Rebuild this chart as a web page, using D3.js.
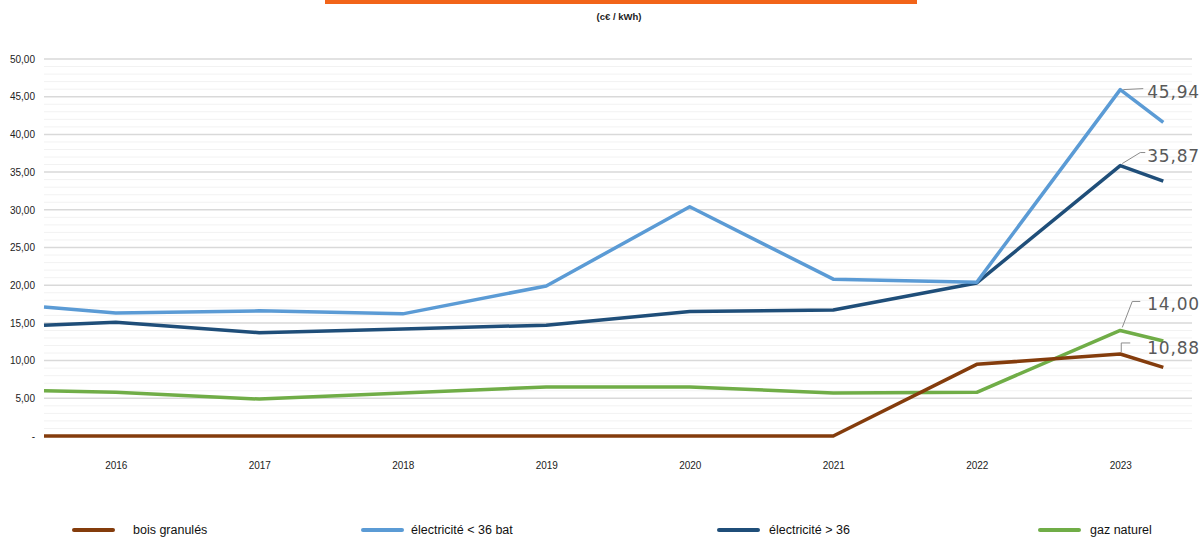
<!DOCTYPE html>
<html>
<head>
<meta charset="utf-8">
<script src="https://cdn.jsdelivr.net/npm/d3@7"></script>
<style>
  body { margin: 0; background: #fff; }
  svg { display: block; font-family: "Liberation Sans", Arial, sans-serif; }
</style>
</head>
<body>
<div id="chart"></div>
<script>
// x positions of the readings (the lines start half a year before 2016 and stop just after 2023)
var points = [2015.5, 2016, 2017, 2018, 2019, 2020, 2021, 2022, 2023, 2023.3];
var yearLabels = [2016, 2017, 2018, 2019, 2020, 2021, 2022, 2023];
var yTicks = [0, 5, 10, 15, 20, 25, 30, 35, 40, 45, 50];

var boisGranules = [0, 0, 0, 0, 0, 0, 0, 9.5, 10.88, 9.1];
var elecMoins36 = [17.1, 16.3, 16.6, 16.2, 19.9, 30.4, 20.8, 20.4, 45.94, 41.6];
var elecPlus36 = [14.7, 15.1, 13.7, 14.2, 14.7, 16.5, 16.7, 20.3, 35.87, 33.8];
var gazNaturel = [6.0, 5.8, 4.9, 5.7, 6.5, 6.5, 5.7, 5.8, 14.00, 12.6];

var seriesNames = ["bois granulés", "électricité < 36 bat", "électricité > 36", "gaz naturel"];
var seriesColors = ["#843c0c", "#5b9bd5", "#1f4e79", "#70ad47"];

var width = 1204, height = 537;
var svg = d3.select("#chart").append("svg")
    .attr("width", width)
    .attr("height", height);

// orange bar and unit
svg.append("rect")
    .attr("x", 325).attr("y", 0)
    .attr("width", 592).attr("height", 4)
    .attr("fill", "#f26419");

svg.append("text")
    .attr("x", 619).attr("y", 20)
    .attr("text-anchor", "middle")
    .style("font-size", "9.5px")
    .style("font-weight", "bold")
    .attr("fill", "#222")
    .text("(c€ / kWh)");

var x = d3.scaleLinear().domain([2015.5, 2023.5]).range([44, 1192]);
var y = d3.scaleLinear().domain([0, 50]).range([436, 59]);

var g = svg.append("g");

// faint minor grid
g.selectAll(".minor")
    .data(d3.range(1, 50).filter(function(v){ return v % 5 != 0; }))
    .enter().append("line")
    .attr("class", "minor")
    .attr("x1", 44).attr("x2", 1192)
    .attr("y1", function(d){ return y(d); })
    .attr("y2", function(d){ return y(d); })
    .attr("stroke", "#f2f2f2")
    .attr("stroke-width", 1);

// major grid
g.selectAll(".major")
    .data(yTicks.filter(function(v){ return v > 0; }))
    .enter().append("line")
    .attr("class", "major")
    .attr("x1", 44).attr("x2", 1192)
    .attr("y1", function(d){ return y(d); })
    .attr("y2", function(d){ return y(d); })
    .attr("stroke", "#d9d9d9")
    .attr("stroke-width", 1.5);

// y axis labels
var yAxis = d3.axisLeft(y)
    .tickValues(yTicks)
    .tickSize(0)
    .tickPadding(0)
    .tickFormat(function(d){ return d == 0 ? "-" : d3.format(".2f")(d).replace(".", ","); });

svg.append("g")
    .attr("transform", "translate(35,0)")
    .call(yAxis)
    .call(function(s){ s.select(".domain").remove(); })
    .selectAll("text")
    .style("font-size", "10px")
    .style("font-family", "'Liberation Sans', Arial, sans-serif")
    .attr("fill", "#222");

// x axis labels
var xAxis = d3.axisBottom(x)
    .tickValues(yearLabels)
    .tickSize(0)
    .tickPadding(0)
    .tickFormat(d3.format("d"));

svg.append("g")
    .attr("transform", "translate(0,462)")
    .call(xAxis)
    .call(function(s){ s.select(".domain").remove(); })
    .selectAll("text")
    .style("font-size", "10px")
    .style("font-family", "'Liberation Sans', Arial, sans-serif")
    .attr("fill", "#222");

// lines
var allSeries = [boisGranules, elecMoins36, elecPlus36, gazNaturel];
var line = d3.line()
    .x(function(d, i){ return x(points[i]); })
    .y(function(d){ return y(d); });

// draw order: green, brown, dark blue, light blue on top
[3, 0, 2, 1].forEach(function(k){
    svg.append("path")
        .datum(allSeries[k])
        .attr("fill", "none")
        .attr("stroke", seriesColors[k])
        .attr("stroke-width", 3.5)
        .attr("stroke-linejoin", "round")
        .attr("d", line);
});

// data labels on 2023 (leader offsets relative to the point)
var labelInfo = [
    {s: 1, leader: [[3, 0], [23, -1]], ty: 2},
    {s: 2, leader: [[2, -2], [20, -13], [25, -13]], ty: -10},
    {s: 3, leader: [[2, -3], [12, -29], [20, -29]], ty: -27},
    {s: 0, leader: [[1, -2], [1, -11], [10, -11]], ty: -6}
];
var i23 = points.indexOf(2023);
labelInfo.forEach(function(l){
    var v = allSeries[l.s][i23];
    var px = x(2023), py = y(v);
    svg.append("path")
        .attr("d", d3.line()(l.leader.map(function(p){ return [px + p[0], py + p[1]]; })))
        .attr("fill", "none")
        .attr("stroke", "#8c8c8c")
        .attr("stroke-width", 1);
    svg.append("text")
        .attr("x", px + 27)
        .attr("y", py + l.ty)
        .attr("dy", "0.36em")
        .style("font-size", "17px")
        .style("letter-spacing", "0.8px")
        .style("font-family", "'DejaVu Sans', sans-serif")
        .attr("fill", "#595959")
        .text(d3.format(".2f")(v).replace(".", ","));
});

// legend
var legendSwatch = [72, 361, 717, 1038];
var legendText = [133, 411, 769, 1090];
var leg = svg.selectAll(".legend")
    .data(seriesNames)
    .enter().append("g")
    .attr("class", "legend");

leg.append("line")
    .attr("x1", function(d, i){ return legendSwatch[i] + 2; })
    .attr("x2", function(d, i){ return legendSwatch[i] + 41; })
    .attr("y1", 530).attr("y2", 530)
    .attr("stroke", function(d, i){ return seriesColors[i]; })
    .attr("stroke-width", 4)
    .attr("stroke-linecap", "round");

leg.append("text")
    .attr("x", function(d, i){ return legendText[i]; })
    .attr("y", 530)
    .attr("dy", "0.35em")
    .style("font-size", "12.5px")
    .attr("fill", "#111")
    .text(function(d){ return d; });
</script>
</body>
</html>
